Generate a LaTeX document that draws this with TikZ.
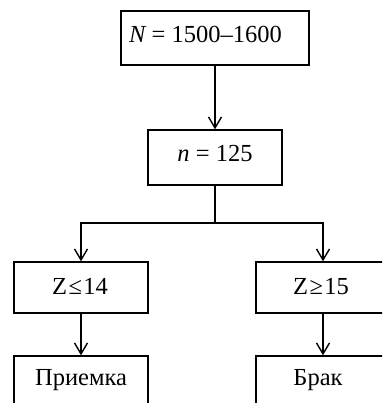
\documentclass[tikz,border=0pt]{standalone}
\usepackage{fontspec}
\setmainfont{Liberation Serif}
\usetikzlibrary{arrows.meta}
\begin{document}
\begin{tikzpicture}[x=1pt,y=-1pt,
  box/.style={draw,line width=1.4pt,inner sep=0pt},
  lbl/.style={font=\fontsize{24.5}{28}\selectfont,inner sep=0pt},
  conn/.style={line width=1.4pt},
  arr/.style={conn,-{Straight Barb[length=11pt,width=13pt,line width=1.4pt]}}]
\useasboundingbox (0,0) rectangle (382,403);
\clip (0,0) rectangle (382,403);
% boxes
\node[box,minimum width=188pt,minimum height=54pt] (b1) at (215,38) {};
\node[lbl,anchor=west] (t1) at (129,34.5) {\itshape N\upshape\ = 1500–1600};
\node[box,minimum width=134pt,minimum height=55pt] (b2) at (215,157.5) {};
\node[lbl] (t2) at (215,154) {\itshape n\upshape\ = 125};
\node[box,minimum width=134pt,minimum height=51pt] (b3) at (81,287.5) {};
\node[lbl] (t3) at (80,286.5) {Z\kern1.5pt≤\kern1.5pt14};
\node[box,minimum width=134pt,minimum height=51pt] (b4) at (323,287.5) {};
\node[lbl] (t4) at (321,286.5) {Z\kern1.5pt≥\kern1.5pt15};
\node[box,minimum width=134pt,minimum height=64pt] (b5) at (81,388) {};
\node[lbl] (t5) at (81,380) {Приемка};
\node[box,minimum width=134pt,minimum height=64pt] (b6) at (323,388) {};
\node[lbl] (t6) at (318,380) {Брак};
% connectors
\draw[arr] (b1.south) -- (b2.north);
\coordinate (j) at (215,223);
\draw[conn] (b2.south) -- (j);
\draw[arr] (j) -| (b3.north);
\draw[arr] (j) -| (b4.north);
\draw[arr] (b3.south) -- (b5.north);
\draw[arr] (b4.south) -- (b6.north);
\end{tikzpicture}
\end{document}
